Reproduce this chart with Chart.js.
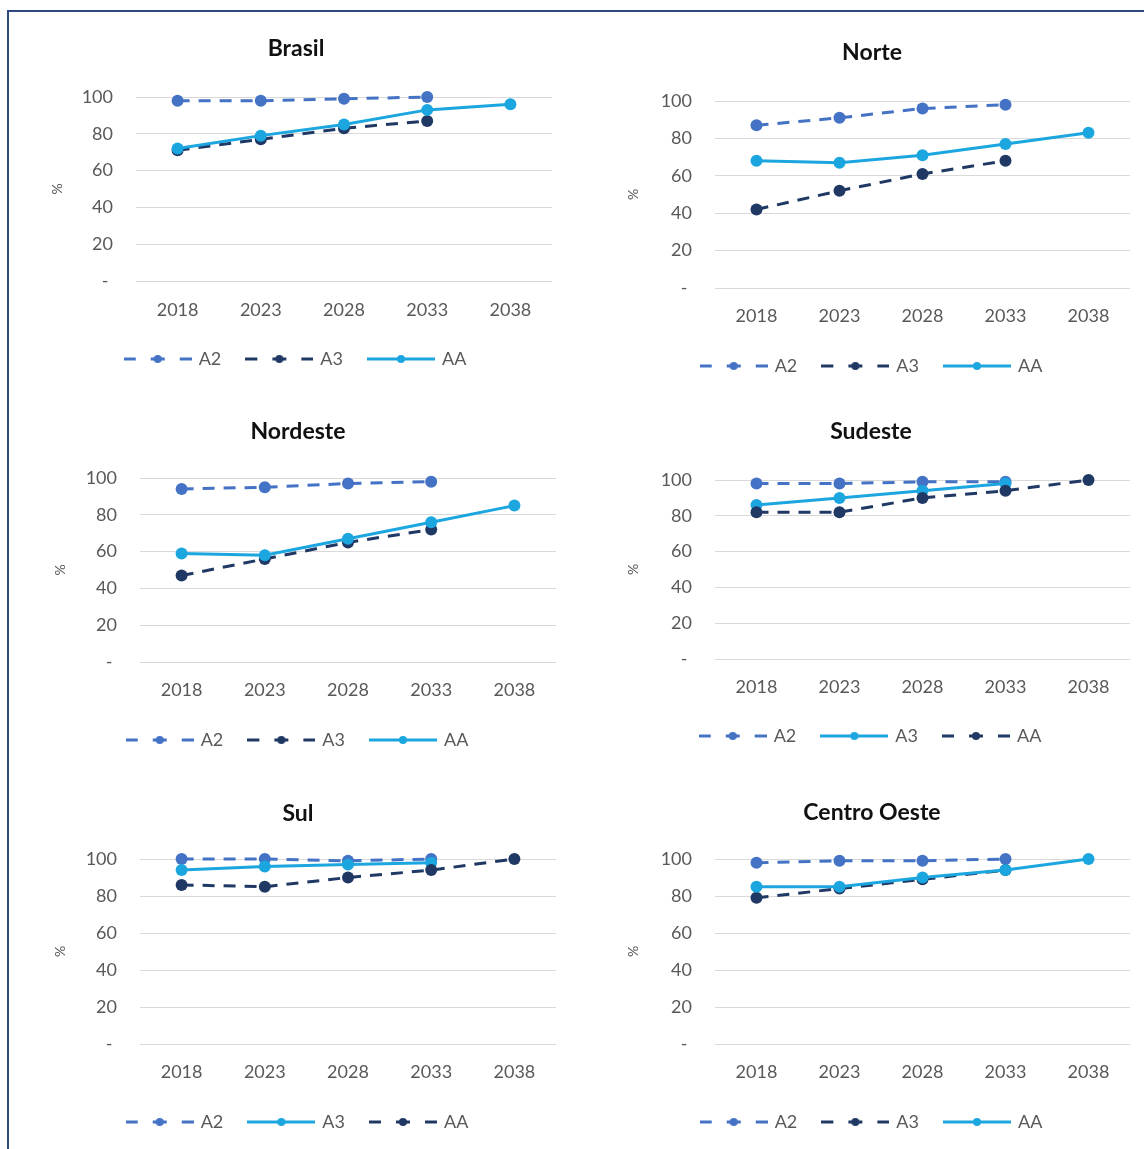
<!DOCTYPE html>
<html>
<head>
<meta charset="utf-8">
<script src="https://cdn.jsdelivr.net/npm/chart.js@4/dist/chart.umd.min.js"></script>
<style>
  html, body { margin: 0; padding: 0; background: #fff; width: 1144px; height: 1149px; overflow: hidden; }
  #frame { position: absolute; left: 7px; top: 10px; width: 1400px; height: 1400px; border: 2px solid #2f4a7c; box-sizing: border-box; }
  canvas.panel { position: absolute; }
</style>
</head>
<body>
<div id="frame"></div>
<script>
// Categories and tick values
const years = ['2018', '2023', '2028', '2033', '2038'];
const yTickValues = [0, 20, 40, 60, 80, 100];

// Series values per region (%), null = no value for that year
const brasilA2 = [98, 98, 99, 100, null];
const brasilA3 = [71, 77, 83, 87, null];
const brasilAA = [72, 79, 85, 93, 96];

const norteA2 = [87, 91, 96, 98, null];
const norteA3 = [42, 52, 61, 68, null];
const norteAA = [68, 67, 71, 77, 83];

const nordesteA2 = [94, 95, 97, 98, null];
const nordesteA3 = [47, 56, 65, 72, null];
const nordesteAA = [59, 58, 67, 76, 85];

const sudesteA2 = [98, 98, 99, 99, null];
const sudesteA3 = [86, 90, 94, 98, null];
const sudesteAA = [82, 82, 90, 94, 100];

const sulA2 = [100, 100, 99, 100, null];
const sulA3 = [94, 96, 97, 98, null];
const sulAA = [86, 85, 90, 94, 100];

const centroOesteA2 = [98, 99, 99, 100, null];
const centroOesteA3 = [79, 84, 89, 94, null];
const centroOesteAA = [85, 85, 90, 94, 100];

const seriesNames = ['A2', 'A3', 'AA'];

// Line styles
const STYLES = {
  mid:   { color: '#4472C4', dash: [12, 9] },
  dark:  { color: '#1F3864', dash: [12, 9] },
  light: { color: '#1CA6E0', dash: [] }
};

const FONT = 'Lato, "Open Sans", sans-serif';
const GREY = '#595959';

// Panel placement on the page
const panels = [
  { title: 'Brasil', series: [brasilA2, brasilA3, brasilAA], styles: ['mid', 'dark', 'light'],
    titleX: 296, titleY: 49, plotL: 136, plotR: 552, plotT: 97, plotB: 281, xLabY: 309, legY: 359, pctX: 57 },
  { title: 'Norte', series: [norteA2, norteA3, norteAA], styles: ['mid', 'dark', 'light'],
    titleX: 872, titleY: 53, plotL: 715, plotR: 1130, plotT: 101, plotB: 288, xLabY: 315, legY: 366, pctX: 633 },
  { title: 'Nordeste', series: [nordesteA2, nordesteA3, nordesteAA], styles: ['mid', 'dark', 'light'],
    titleX: 298, titleY: 432, plotL: 140, plotR: 556, plotT: 478, plotB: 662, xLabY: 689, legY: 740, pctX: 60 },
  { title: 'Sudeste', series: [sudesteA2, sudesteA3, sudesteAA], styles: ['mid', 'light', 'dark'],
    titleX: 871, titleY: 432, plotL: 715, plotR: 1130, plotT: 480, plotB: 659, xLabY: 686, legY: 736, pctX: 633 },
  { title: 'Sul', series: [sulA2, sulA3, sulAA], styles: ['mid', 'light', 'dark'],
    titleX: 298, titleY: 814, plotL: 140, plotR: 556, plotT: 859, plotB: 1044, xLabY: 1071, legY: 1122, pctX: 60 },
  { title: 'Centro Oeste', series: [centroOesteA2, centroOesteA3, centroOesteAA], styles: ['mid', 'dark', 'light'],
    titleX: 872, titleY: 813, plotL: 715, plotR: 1130, plotT: 859, plotB: 1044, xLabY: 1071, legY: 1122, pctX: 633 }
];

// Legend swatch: short line with a marker in the middle
function swatch(style) {
  const c = document.createElement('canvas');
  c.width = 68; c.height = 12;
  const g = c.getContext('2d');
  g.strokeStyle = style.color;
  g.lineWidth = 3;
  const seg = (a, b) => { g.beginPath(); g.moveTo(a, 6); g.lineTo(b, 6); g.stroke(); };
  if (style.dash.length) { seg(0, 12); seg(27, 41); seg(56, 68); } else { seg(0, 68); }
  g.beginPath(); g.arc(34, 6, 4, 0, Math.PI * 2); g.fillStyle = style.color; g.fill();
  return c;
}

const TITLE_SIZE = 23, TICK_SIZE = 18, LEG_SIZE = 18, PCT_SIZE = 14;
const LEG_PAD = 26;

panels.forEach((p) => {
  const W = 2 * (p.plotR - p.titleX);
  const L = p.titleX - W / 2;
  const T = p.titleY - 30;
  const bottom = p.legY + 10 + LEG_SIZE / 2;
  const H = Math.round(bottom - T);
  const legH = LEG_SIZE + LEG_PAD + 10;
  const xAxisH = (T + H - legH) - p.plotB;
  const yAxisW = p.plotL - L;
  const titleLH = TITLE_SIZE * 1.2;

  const cv = document.createElement('canvas');
  cv.className = 'panel';
  cv.width = W; cv.height = H;
  cv.style.left = L + 'px'; cv.style.top = T + 'px';
  cv.style.width = W + 'px'; cv.style.height = H + 'px';
  document.body.appendChild(cv);

  const n = p.series.length;
  const swatches = p.styles.map(s => swatch(STYLES[s]));
  const datasets = p.series.map((vals, i) => {
    const st = STYLES[p.styles[i]];
    return {
      label: seriesNames[i],
      data: vals,
      borderColor: st.color,
      backgroundColor: st.color,
      borderWidth: 3,
      borderDash: st.dash,
      pointRadius: 6,
      pointHoverRadius: 6,
      pointBorderWidth: 0,
      pointBackgroundColor: st.color,
      tension: 0,
      spanGaps: false,
      clip: false,
      order: n - 1 - i
    };
  });

  new Chart(cv, {
    type: 'line',
    data: { labels: years, datasets },
    options: {
      responsive: false,
      animation: false,
      devicePixelRatio: 1,
      layout: { padding: 0, autoPadding: false },
      plugins: {
        tooltip: { enabled: false },
        title: {
          display: true,
          text: p.title,
          color: '#111',
          font: { family: FONT, size: TITLE_SIZE, weight: 'bold', lineHeight: 1.2 },
          padding: { top: 30 - titleLH / 2, bottom: p.plotT - T - (30 + titleLH / 2) }
        },
        legend: {
          position: 'bottom',
          labels: {
            usePointStyle: true,
            pointStyleWidth: 64,
            padding: LEG_PAD,
            color: GREY,
            font: { family: FONT, size: LEG_SIZE },
            generateLabels: () => datasets.map((ds, i) => ({
              text: ds.label,
              pointStyle: swatches[i],
              fontColor: GREY,
              fillStyle: 'transparent',
              strokeStyle: 'transparent',
              lineWidth: 0,
              hidden: false,
              datasetIndex: i
            }))
          }
        }
      },
      scales: {
        x: {
          type: 'category',
          offset: true,
          grid: { display: false, drawTicks: false },
          border: { display: false },
          ticks: {
            color: GREY,
            font: { family: FONT, size: TICK_SIZE, lineHeight: 1.2 },
            padding: p.xLabY - p.plotB - TICK_SIZE * 0.6 + 1,
            maxRotation: 0
          },
          afterFit: (s) => { s.height = xAxisH; s.paddingLeft = 0; s.paddingRight = 0; }
        },
        y: {
          min: 0,
          max: 100,
          afterBuildTicks: (s) => { s.ticks = yTickValues.map(v => ({ value: v })); },
          grid: { color: '#d9d9d9', lineWidth: 1, drawTicks: false },
          border: { display: false },
          ticks: {
            color: GREY,
            font: { family: FONT, size: TICK_SIZE },
            padding: 23,
            callback: (v) => (v === 0 ? '- ' : String(v))
          },
          title: {
            display: true,
            text: '%',
            color: GREY,
            font: { family: FONT, size: PCT_SIZE, lineHeight: 1.2 },
            padding: { top: p.pctX - L - PCT_SIZE * 0.6, bottom: 0 }
          },
          afterFit: (s) => { s.width = yAxisW; }
        }
      }
    }
  });
});
</script>
</body>
</html>
